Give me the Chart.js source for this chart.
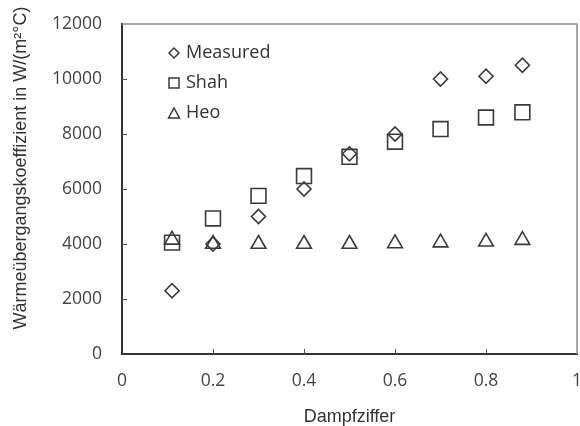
<!DOCTYPE html>
<html>
<head>
<meta charset="utf-8">
<script src="https://cdn.jsdelivr.net/npm/chart.js@4/dist/chart.umd.min.js"></script>
<style>
  html, body { margin: 0; padding: 0; background: #fff; }
  #wrap { width: 580px; height: 426px; }
</style>
</head>
<body>
<div id="wrap"><canvas id="chart" width="580" height="426"></canvas></div>
<script>
// Data
const dampfziffer = [0.11, 0.2, 0.3, 0.4, 0.5, 0.6, 0.7, 0.8, 0.88];
const measured = [2300, 4000, 5000, 6000, 7280, 8000, 10000, 10100, 10500];
const shah = [4050, 4930, 5750, 6470, 7170, 7720, 8180, 8600, 8790];
const heo = [4150, 4000, 4000, 4000, 4000, 4020, 4050, 4080, 4140];
const xTicks = [0, 0.2, 0.4, 0.6, 0.8, 1];
const yTicks = [0, 2000, 4000, 6000, 8000, 10000, 12000];
const yTitle = 'Wärmeübergangskoeffizient in W/(m²°C)';

const markColor = '#3a3a3a';
const toPoints = ys => dampfziffer.map((x, i) => ({ x: x, y: ys[i] }));

// Chart.js keeps some room on the right for the last tick label; the original plot runs to the edge
const stretchPlugin = {
    id: 'stretch',
    afterLayout(chart) {
        const right = chart.width - 3;
        const xs = chart.scales.x;
        xs.right = right;
        xs.width = right - xs.left;
        xs.configure();
        chart.chartArea.right = right;
        chart.chartArea.width = right - chart.chartArea.left;
    }
};

// Frame (top/right), inward tick marks, y title and the in-plot legend
const framePlugin = {
    id: 'frame',
    afterDraw(chart) {
        const { ctx, chartArea: a, scales } = chart;
        ctx.save();
        ctx.strokeStyle = '#8a8a8a';
        ctx.lineWidth = 1.5;
        ctx.beginPath();
        ctx.moveTo(a.left, a.top);
        ctx.lineTo(a.right, a.top);
        ctx.lineTo(a.right, a.bottom);
        ctx.stroke();

        ctx.strokeStyle = '#555';
        ctx.lineWidth = 1;
        ctx.beginPath();
        yTicks.slice(1, -1).forEach(v => {
            const y = Math.round(scales.y.getPixelForValue(v)) + 0.5;
            ctx.moveTo(a.left, y);
            ctx.lineTo(a.left + 5, y);
        });
        xTicks.slice(1, -1).forEach(v => {
            const x = Math.round(scales.x.getPixelForValue(v)) + 0.5;
            ctx.moveTo(x, a.bottom);
            ctx.lineTo(x, a.bottom - 5);
        });
        ctx.stroke();

        // y axis title, a bit above the axis middle as in the original
        ctx.save();
        ctx.translate(21, 168);
        ctx.rotate(-Math.PI / 2);
        ctx.fillStyle = '#333';
        ctx.font = '18px "Liberation Sans"';
        ctx.textAlign = 'center';
        ctx.textBaseline = 'middle';
        ctx.fillText(yTitle, 0, 0);
        ctx.restore();

        // legend
        const items = [
            { text: 'Measured', shape: 'diamond' },
            { text: 'Shah', shape: 'square' },
            { text: 'Heo', shape: 'triangle' }
        ];
        const sx = a.left + 52;
        ctx.strokeStyle = markColor;
        ctx.lineWidth = 1.5;
        ctx.fillStyle = '#333';
        ctx.font = '18px "Open Sans"';
        ctx.textBaseline = 'middle';
        items.forEach((it, i) => {
            const cy = a.top + 29 + i * 30;
            ctx.beginPath();
            if (it.shape === 'diamond') {
                ctx.moveTo(sx - 5, cy);
                ctx.lineTo(sx, cy - 5);
                ctx.lineTo(sx + 5, cy);
                ctx.lineTo(sx, cy + 5);
                ctx.closePath();
            } else if (it.shape === 'square') {
                ctx.rect(sx - 5, cy - 5, 10, 10);
            } else {
                ctx.moveTo(sx - 5.5, cy + 5);
                ctx.lineTo(sx, cy - 5);
                ctx.lineTo(sx + 5.5, cy + 5);
                ctx.closePath();
            }
            ctx.stroke();
            ctx.fillText(it.text, sx + 12, cy);
        });
        ctx.restore();
    }
};

new Chart(document.getElementById('chart'), {
    type: 'scatter',
    data: {
        datasets: [
            {
                label: 'Measured',
                data: toPoints(measured),
                pointStyle: 'rectRot',
                pointRadius: 7,
                borderColor: markColor,
                backgroundColor: 'rgba(0,0,0,0)',
                borderWidth: 1.6
            },
            {
                label: 'Shah',
                data: toPoints(shah),
                pointStyle: 'rect',
                pointRadius: 10.5,
                borderColor: markColor,
                backgroundColor: 'rgba(0,0,0,0)',
                borderWidth: 1.6
            },
            {
                label: 'Heo',
                data: toPoints(heo),
                pointStyle: 'triangle',
                pointRadius: 8.5,
                borderColor: markColor,
                backgroundColor: 'rgba(0,0,0,0)',
                borderWidth: 1.6
            }
        ]
    },
    options: {
        responsive: false,
        animation: false,
        layout: { padding: { left: 0, right: 3, top: 24, bottom: 0 } },
        plugins: {
            legend: { display: false },
            tooltip: { enabled: false }
        },
        scales: {
            x: {
                type: 'linear',
                min: 0,
                max: 1,
                afterBuildTicks: scale => { scale.ticks = xTicks.map(v => ({ value: v })); },
                afterFit: scale => {
                    scale.height = 72;
                    scale.paddingLeft = 0;
                    scale.paddingRight = 0;
                },
                grid: { display: false, drawTicks: false },
                border: { display: true, color: '#333', width: 2 },
                ticks: {
                    padding: 17,
                    color: '#444',
                    font: { family: '"Open Sans"', size: 17.5 },
                    callback: v => String(v)
                },
                title: {
                    display: true,
                    text: 'Dampfziffer',
                    color: '#333',
                    font: { family: '"Liberation Sans"', size: 18 },
                    padding: { top: 0, bottom: -2 }
                }
            },
            y: {
                min: 0,
                max: 12000,
                afterBuildTicks: scale => { scale.ticks = yTicks.map(v => ({ value: v })); },
                afterFit: scale => {
                    scale.width = 122;
                    scale.paddingTop = 0;
                    scale.paddingBottom = 0;
                },
                grid: { display: false, drawTicks: false },
                border: { display: true, color: '#333', width: 2 },
                ticks: {
                    padding: 20,
                    color: '#444',
                    font: { family: '"Open Sans"', size: 17.5 },
                    callback: v => String(v)
                },
                title: { display: false }
            }
        }
    },
    plugins: [stretchPlugin, framePlugin]
});
</script>
</body>
</html>
